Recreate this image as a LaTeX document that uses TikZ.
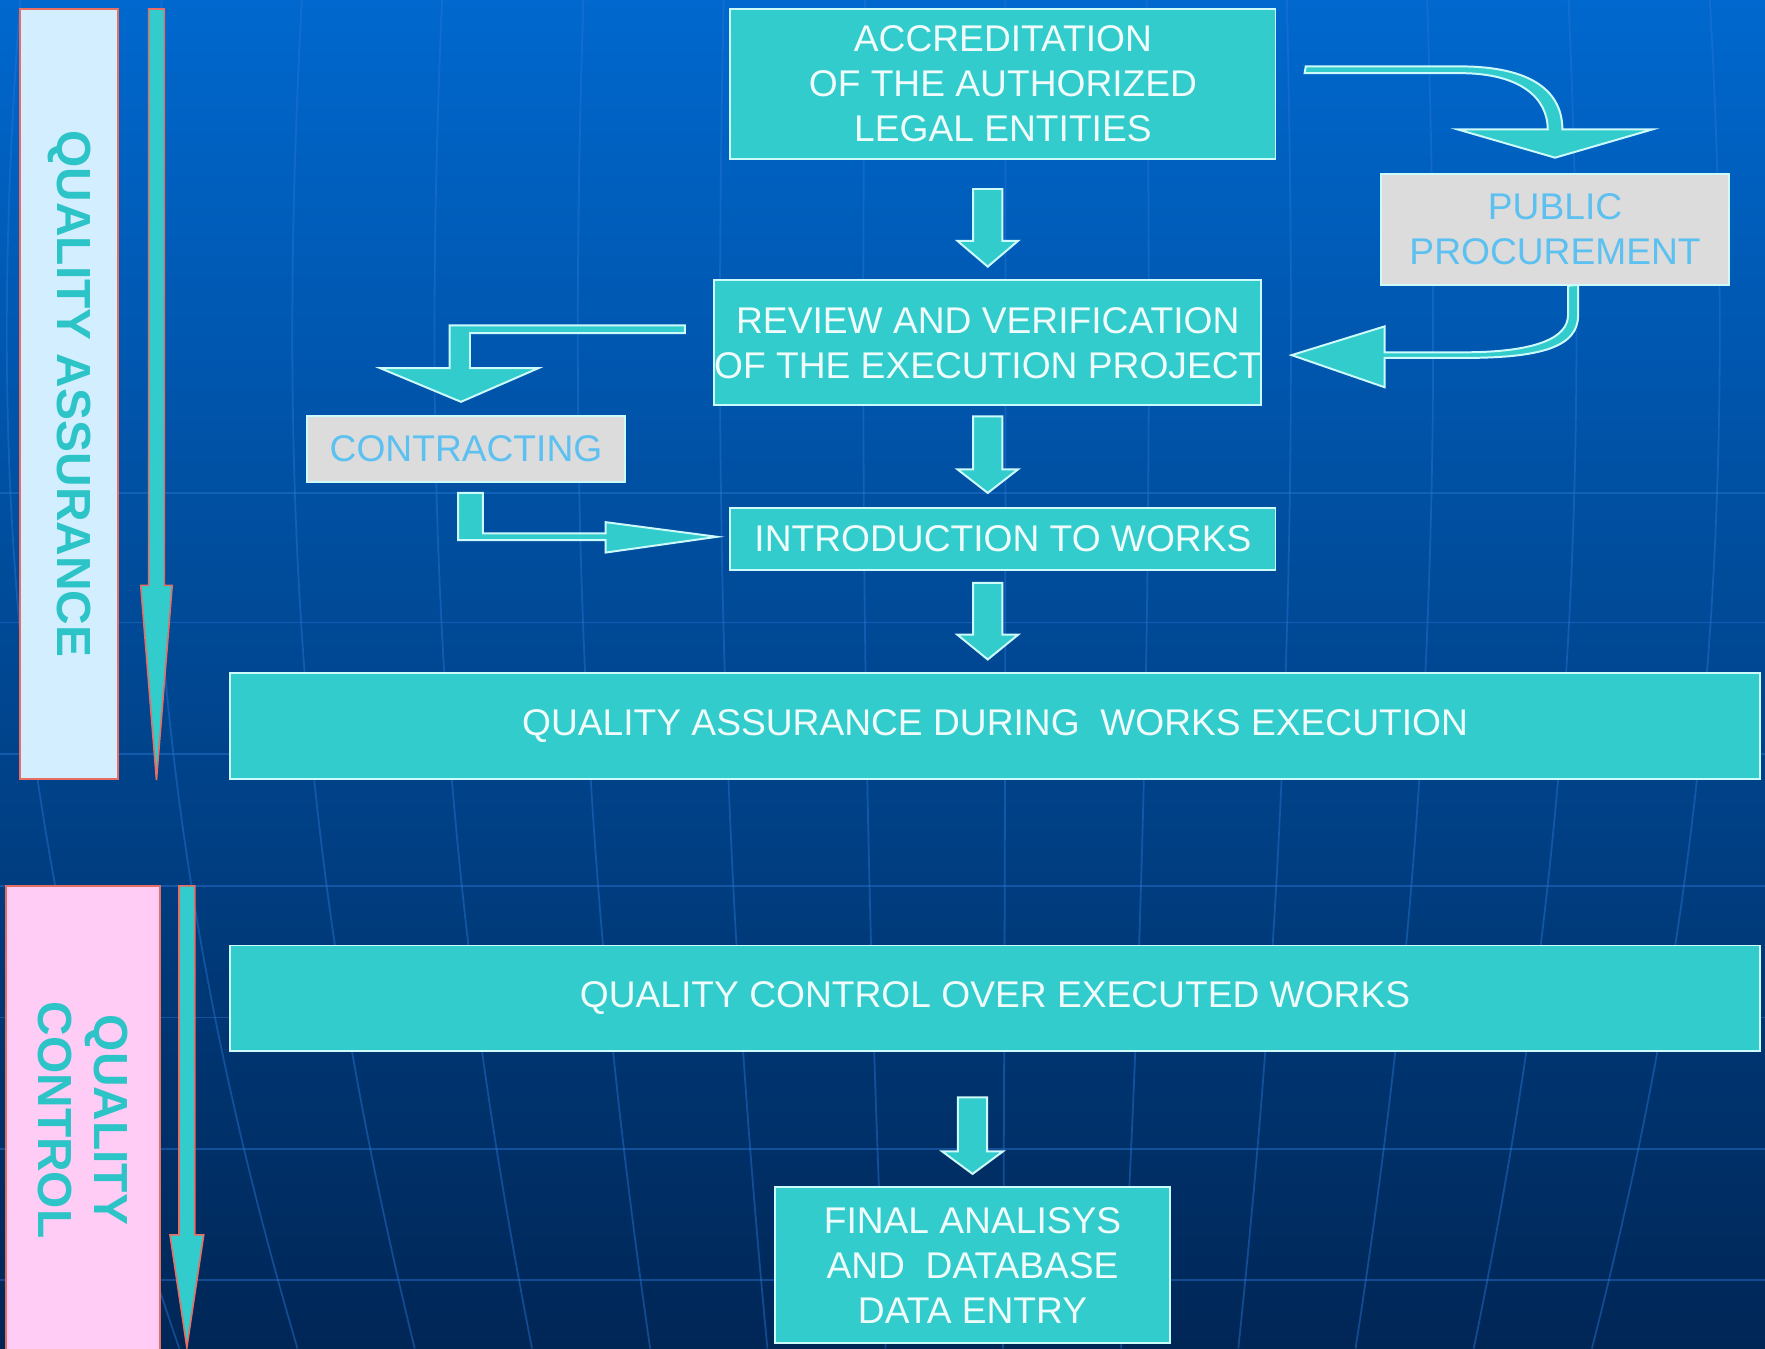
\documentclass[tikz,border=0pt]{standalone}
\usepackage{fontspec}
\setmainfont{Liberation Sans}
\usetikzlibrary{calc}
\definecolor{bgtop}{RGB}{0,104,206}
\definecolor{bgmid}{RGB}{8,78,154}
\definecolor{bgbot}{RGB}{0,38,86}
\definecolor{gridc}{RGB}{40,118,212}
\definecolor{tealc}{RGB}{51,204,204}
\definecolor{edgec}{RGB}{205,250,250}
\definecolor{txtc}{RGB}{240,252,252}
\definecolor{grayc}{RGB}{220,220,220}
\definecolor{blutxt}{RGB}{92,192,240}
\definecolor{salmon}{RGB}{232,110,100}
\definecolor{qafill}{RGB}{210,238,255}
\definecolor{qcfill}{RGB}{255,204,246}
\definecolor{sidetxt}{RGB}{45,196,200}
\newcommand\mainfs{\fontsize{9.39pt}{11.38pt}\selectfont}
\newcommand\sidefs{\fontsize{12.1pt}{14.2pt}\selectfont\bfseries}
\newcommand\blockdown[3]{%
  \draw[blockarrow] ($(#1)+(-13,0)$) -- ++(26,0) -- ++(0,#2) -- ++(14,0)
    -- ++(-27,#3) -- ++(-27,-#3) -- ++(14,0) -- cycle;}
\tikzset{
  tealbox/.style={draw=edgec, line width=0.5pt, fill=tealc, text=txtc,
    font=\mainfs, align=center, inner sep=0pt},
  graybox/.style={draw=edgec, line width=0.5pt, fill=grayc, text=blutxt,
    font=\mainfs, align=center, inner sep=0pt},
  sidebox/.style={draw=salmon, line width=0.5pt, text=sidetxt,
    font=\sidefs, align=center, inner sep=0pt, rotate=-90},
  blockarrow/.style={draw=edgec, line width=0.5pt, fill=tealc, line join=miter},
  sidearrow/.style={draw=salmon, line width=0.4pt, fill=tealc},
  gridline/.style={draw=gridc, line width=0.45pt, draw opacity=0.45},
}
\begin{document}
\begin{tikzpicture}[x=0.01cm, y=-0.01cm]
\useasboundingbox (0,0) rectangle (1568,1198);
\clip (0,0) rectangle (1568,1198);
% background
\shade[top color=bgtop, middle color=bgmid, bottom color=bgbot] (0,0) rectangle (1568,1198);
\foreach \yy in {438,553,670,787,904,1021,1137}
  \draw[gridline] (0,\yy) -- (1568,\yy);
\foreach \xx in {22,147,271,395,520,644,769,893,1018,1142,1266,1391,1516}
  \draw[gridline] (\xx,-50) .. controls ({\xx+(\xx-880)*0.05},450) and (\xx,800) .. ({880+(\xx-880)*0.84},1198);

% side labels and arrows
\node[sidebox, fill=qafill, minimum width=6.84cm, minimum height=0.87cm] (qalab) at (61.5,350) {QUALITY ASSURANCE};
\draw[sidearrow] (132,8) -- (146,8) -- (146,520) -- (153,520) -- (139,693) -- (125,520) -- (132,520) -- cycle;
\node[sidebox, fill=qcfill, minimum width=4.16cm, minimum height=1.37cm] (qclab) at (73.5,995) {QUALITY\\CONTROL};
\draw[sidearrow] (159,787) -- (173,787) -- (173,1097) -- (181,1097) -- (166,1197) -- (151,1097) -- (159,1097) -- cycle;

% main boxes
\node[tealbox, minimum width=4.84cm, minimum height=1.33cm] (acc) at (891,74.5) {ACCREDITATION\\OF THE AUTHORIZED\\LEGAL ENTITIES};
\node[tealbox, minimum width=4.85cm, minimum height=1.11cm] (rev) at (877.5,304.5) {REVIEW AND VERIFICATION\\OF THE EXECUTION PROJECT};
\node[tealbox, minimum width=4.84cm, minimum height=0.55cm] (intro) at (891,478.5) {INTRODUCTION TO WORKS};
\node[tealbox, minimum width=13.58cm, minimum height=0.94cm] (qaw) at (884,645) {QUALITY ASSURANCE DURING\ \ WORKS EXECUTION};
\node[tealbox, minimum width=13.58cm, minimum height=0.94cm] (qcw) at (884,887) {QUALITY CONTROL OVER EXECUTED WORKS};
\node[tealbox, minimum width=3.50cm, minimum height=1.38cm] (final) at (864,1124) {FINAL ANALISYS\\AND\ \ DATABASE\\DATA ENTRY};
\node[graybox, minimum width=2.82cm, minimum height=0.58cm] (contr) at (414,399) {CONTRACTING};
\node[graybox, minimum width=3.09cm, minimum height=0.98cm] (pp) at (1381.5,204) {PUBLIC\\PROCUREMENT};

% straight down block arrows
\coordinate (d1) at ($(acc.south -| rev.north)+(0,26)$);
\coordinate (d2) at ($(rev.south)+(0,9)$);
\coordinate (d3) at ($(intro.south -| rev.south)+(0,11)$);
\coordinate (d4) at ($(qcw.south -| final.north)+(0,40)$);
\blockdown{d1}{46}{23}
\blockdown{d2}{47}{21}
\blockdown{d3}{46}{22}
\blockdown{d4}{48}{20}

% review -> contracting (bent arrow)
\coordinate (ra) at ($(rev.west)+(-25,-15.5)$);
\draw[blockarrow] (ra) -- ++(-209,0) -- ++(0,38) -- ++(-62,0) -- ++(72,30) -- ++(69,-30)
  -- ++(-61,0) -- ++(0,-31) -- ++(191,0) -- cycle;

% contracting -> introduction (bent arrow)
\coordinate (ca) at ($(contr.south)+(-7,9)$);
\draw[blockarrow] (ca) -- ++(22,0) -- ++(0,36) -- ++(109,0) -- ++(0,-10) -- ++(99,13)
  -- ++(-99,14) -- ++(0,-11) -- ++(-131,0) -- cycle;

% accreditation -> public procurement (curved arrow)
\coordinate (aa) at ($(acc.east)+(26,-15.5)$);
\coordinate (at) at ($(pp.north)+(0,-14)$);
\draw[blockarrow] (aa) -- (1297,59) .. controls (1362,59) and (1388,82) .. (1388,115)
  -- (1468,115) -- (at) -- (1295,115) -- (1375,115)
  .. controls (1375,88) and (1352,65) .. (1297,65) -- (1159,65) -- cycle;

% public procurement -> review (curved arrow)
\coordinate (pa) at ($(pp.south)+(11.5,0)$);
\coordinate (pt) at ($(rev.east)+(26,11)$);
\draw[blockarrow] (pa) -- (1402,253) -- (1402,280) .. controls (1402,308) and (1370,318) .. (1300,318)
  -- (1230,318) -- (1230,344) -- (pt) -- (1230,290) -- (1230,313) -- (1300,313)
  .. controls (1365,313) and (1393,300) .. (1393,280) -- cycle;
\end{tikzpicture}
\end{document}
